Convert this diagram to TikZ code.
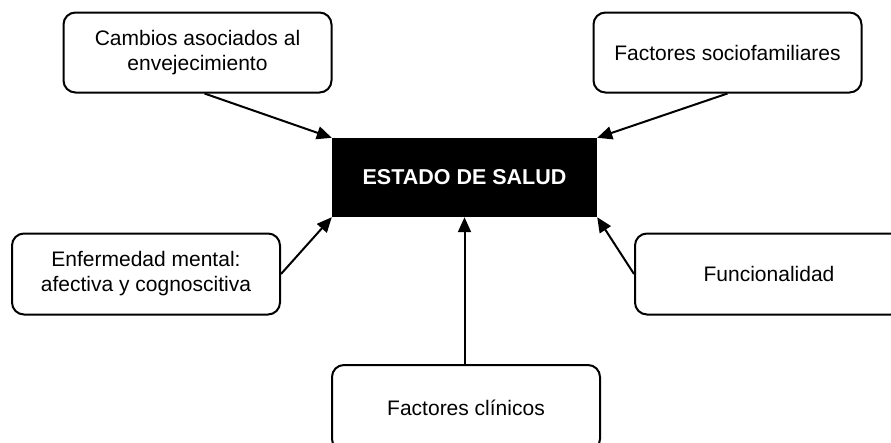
\documentclass[tikz,border=0pt]{standalone}
\usepackage{fontspec}
\setmainfont{Liberation Sans}
\usepackage{tikz}
\usetikzlibrary{arrows.meta}
\tikzset{
  saludbox/.style={draw, line width=2pt, rounded corners=12pt, align=center, minimum width=268pt, minimum height=80pt, inner sep=4pt, font=\fontsize{21}{25}\selectfont},
  saludcentro/.style={fill=black, text=white, minimum width=265pt, minimum height=79pt, inner sep=4pt, font=\fontsize{21.5}{25}\selectfont\bfseries},
  saludarrow/.style={-{Triangle[length=15pt,width=13pt]}, line width=2pt}
}
\begin{document}
\begin{tikzpicture}[x=1pt, y=-1pt]
\useasboundingbox (0,0) rectangle (891,442);
% central node
\node[saludcentro] (estado) at (464.5,177.5) {ESTADO DE SALUD};

% factors around it
\node[saludbox] (cambios) at (197.5,52.5) {Cambios asociados al\\envejecimiento};
\node[saludbox] (socio) at (727.5,52.5) {Factores sociofamiliares};
\node[saludbox, minimum height=81pt] (mental) at (146,274) {Enfermedad mental:\\afectiva y cognoscitiva};
\node[saludbox, minimum height=81pt] (funcional) at (769,274) {Funcionalidad};
\node[saludbox, minimum height=86pt] (clinicos) at (466,408) {Factores clínicos};

% arrows
\draw[saludarrow] (cambios.south) ++(7,0) -- (estado.north west);
\draw[saludarrow] (socio.south) -- (estado.north east);
\draw[saludarrow] (mental.east) -- (estado.south west);
\draw[saludarrow] (funcional.west) -- (estado.south east);
\draw[saludarrow] (clinicos.north -| estado.south) -- (estado.south);
\end{tikzpicture}
\end{document}
